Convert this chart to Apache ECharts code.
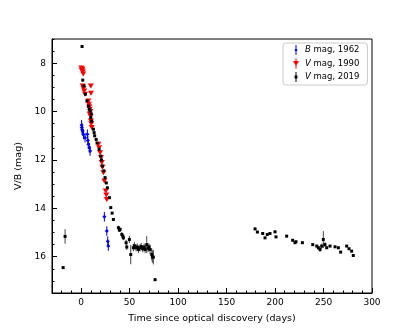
<!DOCTYPE html>
<html>
<head>
<meta charset="utf-8">
<title>Light curve</title>
<script src="https://cdn.jsdelivr.net/npm/echarts@6/dist/echarts.min.js"></script>
<style>
  html, body { margin: 0; padding: 0; background: #fff; }
</style>
</head>
<body>
<div id="main" style="width:415px;height:330px"></div>
<script>
// [day, mag, error]
var bData1962 = [
  [0.5, 10.55, 0.2], [0.7, 10.66, 0.2], [1.0, 10.75, 0.2], [1.7, 10.8, 0.2], [2.5, 10.95, 0.2],
  [4.1, 11.08, 0.2], [6.5, 10.94, 0.2], [7.0, 11.2, 0.2], [7.5, 11.35, 0.2], [8.5, 11.5, 0.2],
  [9.3, 11.63, 0.2], [24, 14.35, 0.2], [26.5, 14.94, 0.2], [27.5, 15.36, 0.2], [28.1, 15.56, 0.2]
];
var vData1990 = [
  [0.3, 8.2, 0.05], [0.8, 8.3, 0.05], [1.3, 8.25, 0.05], [1.8, 8.35, 0.05], [2.2, 8.45, 0.05],
  [1.7, 8.94, 0.05], [2.5, 9.05, 0.05], [3.2, 9.15, 0.05], [4.0, 9.28, 0.05], [10, 8.94, 0.05],
  [10.2, 9.24, 0.05], [7.5, 9.56, 0.05], [8.0, 9.7, 0.05], [8.5, 9.8, 0.05], [9.0, 9.9, 0.05],
  [9.5, 10.0, 0.05], [8.8, 10.1, 0.05], [9.8, 10.2, 0.05], [10, 10.39, 0.05], [10.5, 10.5, 0.05],
  [11, 10.66, 0.05], [17.8, 11.35, 0.05], [18.5, 11.5, 0.05], [19.6, 11.7, 0.05], [20.5, 11.9, 0.05],
  [21.3, 12.11, 0.05], [22, 12.3, 0.05], [23, 12.53, 0.05], [24, 12.87, 0.05], [25.4, 13.28, 0.05],
  [26, 13.45, 0.05], [26.5, 13.63, 0.05]
];
var vData2019 = [
  [-18.5, 16.45, 0.03], [-16.5, 15.16, 0.3],
  [1, 7.31, 0.03], [1.7, 8.7, 0.03], [3, 8.94, 0.03], [4.5, 9.28, 0.03], [6, 9.56, 0.03],
  [7.5, 9.77, 0.03], [8.5, 9.9, 0.03], [9.3, 9.97, 0.03], [10, 10.25, 0.03], [10.5, 10.1, 0.03],
  [11, 10.4, 0.03], [12.7, 10.73, 0.03], [13.4, 10.87, 0.03], [14, 11.0, 0.03], [15.5, 11.15, 0.03],
  [16.5, 11.3, 0.03], [18.6, 11.56, 0.03], [20.3, 11.84, 0.03], [21, 12.0, 0.03], [22, 12.25, 0.03],
  [23.5, 12.45, 0.03], [24.7, 12.73, 0.03], [26, 12.95, 0.03], [27.1, 13.15, 0.03], [29.2, 13.56, 0.03],
  [30.6, 13.97, 0.03], [32, 14.2, 0.03], [33.3, 14.46, 0.05], [38.5, 14.8, 0.08], [39.5, 14.9, 0.08],
  [40.2, 14.87, 0.08], [42, 15.08, 0.1], [43, 15.15, 0.1], [43.6, 15.22, 0.1], [46.4, 15.42, 0.12],
  [47.1, 15.6, 0.12], [49.8, 15.29, 0.15], [51.2, 15.91, 0.4], [53.9, 15.63, 0.15], [55, 15.55, 0.15],
  [56.7, 15.63, 0.15], [58, 15.6, 0.15], [59.1, 15.7, 0.15], [60.8, 15.63, 0.15], [62, 15.58, 0.15],
  [63.6, 15.67, 0.15], [65, 15.6, 0.15], [66, 15.7, 0.15], [67.7, 15.5, 0.35], [69, 15.65, 0.15],
  [70, 15.6, 0.15], [71.1, 15.7, 0.2], [72.9, 15.91, 0.25], [73.5, 16.0, 0.25], [74.5, 16.02, 0.3],
  [76.3, 16.95, 0.05],
  [179.4, 14.85, 0.03], [181.8, 14.98, 0.03], [187.3, 15.04, 0.03], [189.7, 15.22, 0.03], [192, 15.08, 0.03],
  [194.8, 15.04, 0.03], [200, 14.97, 0.03], [201, 15.18, 0.03], [212, 15.15, 0.03], [218.2, 15.32, 0.03],
  [220.6, 15.42, 0.03], [221.6, 15.38, 0.03], [228.2, 15.42, 0.03], [238.9, 15.5, 0.03], [243, 15.56, 0.05],
  [244.7, 15.63, 0.08], [246.4, 15.7, 0.1], [248.1, 15.56, 0.1], [249.8, 15.29, 0.35], [251.5, 15.5, 0.1],
  [253.3, 15.63, 0.05], [256.7, 15.56, 0.03], [261.9, 15.59, 0.03], [265.3, 15.63, 0.03], [267.7, 15.81, 0.03],
  [273.9, 15.56, 0.03], [276.3, 15.67, 0.03], [279, 15.77, 0.03], [280.7, 15.95, 0.03]
];
var seriesNames = ['B mag, 1962', 'V mag, 1990', 'V mag, 2019'];
var xMajorTicks = [0, 50, 100, 150, 200, 250, 300];
var yMajorTicks = [8, 10, 12, 14, 16];

var font = 'DejaVu Sans';

function errorBars(name, data, color) {
  return {
    name: name + ' err',
    type: 'custom',
    data: data,
    encode: { x: 0, y: 1 },
    z: 1,
    silent: true,
    renderItem: function (params, api) {
      var x = api.value(0), y = api.value(1), e = api.value(2);
      var p1 = api.coord([x, y - e]);
      var p2 = api.coord([x, y + e]);
      return {
        type: 'line',
        shape: { x1: p1[0], y1: p1[1], x2: p2[0], y2: p2[1] },
        style: { stroke: color, lineWidth: 1 }
      };
    }
  };
}

var option = {
  backgroundColor: '#fff',
  animation: false,
  grid: {
    left: 52, right: 43, top: 39, bottom: 37,
    show: true, borderColor: '#000', borderWidth: 1
  },
  legend: {
    orient: 'vertical',
    left: 283, top: 43,
    padding: [2, 8, 3, 10],
    itemWidth: 8, itemHeight: 10, itemGap: 3.5,
    borderColor: '#ccc', borderWidth: 1, borderRadius: 3,
    backgroundColor: '#fff',
    textStyle: {
      fontFamily: font, fontSize: 8.5, color: '#000',
      rich: { i: { fontFamily: font, fontSize: 8.5, fontStyle: 'italic', color: '#000' } }
    },
    formatter: function (name) {
      return '{i|' + name.charAt(0) + '}' + name.slice(1);
    },
    data: [
      { name: seriesNames[0], icon: 'path://M3.5,0 H4.5 V10 H3.5 Z M2.3,5 L4,3.3 L5.7,5 L4,6.7 Z' },
      { name: seriesNames[1], icon: 'path://M3.5,0 H4.5 V10 H3.5 Z M1,2.5 H7 L4,7.5 Z' },
      { name: seriesNames[2], icon: 'path://M3.5,0 H4.5 V10 H3.5 Z M2.6,3.6 H5.4 V6.4 H2.6 Z' }
    ]
  },
  xAxis: [{
    type: 'value', position: 'bottom',
    min: -30, max: 300, interval: 10,
    name: 'Time since optical discovery (days)',
    nameLocation: 'middle', nameGap: 21,
    nameTextStyle: { fontFamily: font, fontSize: 9.5, color: '#000' },
    axisLine: { show: true, onZero: false, lineStyle: { color: '#000' } },
    axisTick: { show: true, inside: true, length: 2.5, lineStyle: { color: '#000' } },
    axisLabel: {
      fontFamily: font, fontSize: 9, color: '#000', margin: 5,
      formatter: function (v) { return v % 50 === 0 ? String(v) : ''; }
    },
    splitLine: { show: false }
  }, {
    type: 'value', position: 'bottom',
    min: -30, max: 300,
    axisLine: { show: false, onZero: false },
    axisTick: { show: true, inside: true, length: 5, customValues: xMajorTicks, lineStyle: { color: '#000' } },
    axisLabel: { show: false },
    splitLine: { show: false }
  }],
  yAxis: [{
    type: 'value', position: 'left', inverse: true,
    min: 7, max: 17.5, interval: 0.5,
    name: 'V/B (mag)',
    nameLocation: 'middle', nameGap: 25,
    nameTextStyle: { fontFamily: font, fontSize: 9.5, color: '#000' },
    axisLine: { show: true, onZero: false, lineStyle: { color: '#000' } },
    axisTick: { show: true, inside: true, length: 2.5, lineStyle: { color: '#000' } },
    axisLabel: {
      fontFamily: font, fontSize: 9, color: '#000', margin: 6,
      formatter: function (v) { return (v % 2 === 0 && v >= 8) ? String(v) : ''; }
    },
    splitLine: { show: false }
  }, {
    type: 'value', position: 'left', inverse: true,
    min: 7, max: 17.5,
    axisLine: { show: false, onZero: false },
    axisTick: { show: true, inside: true, length: 5, customValues: yMajorTicks, lineStyle: { color: '#000' } },
    axisLabel: { show: false },
    splitLine: { show: false }
  }],
  series: [
    errorBars(seriesNames[0], bData1962, '#0000ff'),
    errorBars(seriesNames[1], vData1990, '#ff0000'),
    errorBars(seriesNames[2], vData2019, '#444'),
    {
      name: seriesNames[0], type: 'scatter', data: bData1962, z: 3,
      symbol: 'diamond', symbolSize: 4,
      itemStyle: { color: '#0000ff', opacity: 1 }
    },
    {
      name: seriesNames[1], type: 'scatter', data: vData1990, z: 3,
      symbol: 'triangle', symbolRotate: 180, symbolSize: [6, 5],
      itemStyle: { color: '#ff0000', opacity: 1 }
    },
    {
      name: seriesNames[2], type: 'scatter', data: vData2019, z: 4,
      symbol: 'rect', symbolSize: 3,
      itemStyle: { color: '#000', opacity: 1 }
    }
  ]
};

var myChart = echarts.init(document.getElementById('main'), null, { renderer: 'canvas' });
myChart.setOption(option);
</script>
</body>
</html>
